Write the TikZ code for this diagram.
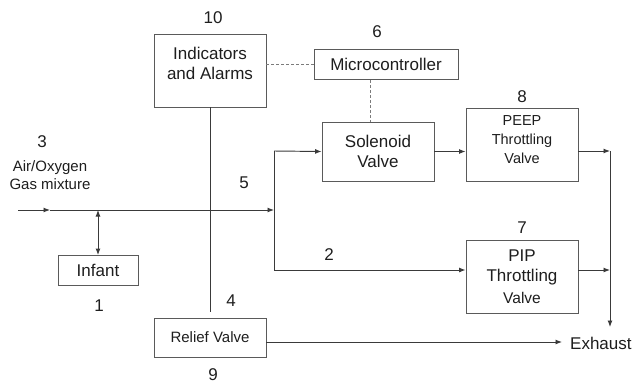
\documentclass[tikz,border=0pt]{standalone}
\usepackage{fontspec}
\setmainfont{Liberation Sans}
\usetikzlibrary{arrows.meta}
\definecolor{ln}{HTML}{3A3A3A}
\definecolor{bx}{HTML}{5A5A5A}
\definecolor{tx}{HTML}{1E1E1E}
\tikzset{
  box/.style={draw=bx, line width=0.9pt, inner sep=0pt, fill=white},
  bigtext/.style={text=tx, font=\fontsize{17}{20}\selectfont, inner sep=0pt, align=center},
  midtext/.style={text=tx, font=\fontsize{15}{18.5}\selectfont, inner sep=0pt, align=center},
  conn/.style={draw=ln, line width=0.95pt},
  arr/.style={conn, -{Latex[length=6.5pt,width=5pt]}},
  darr/.style={conn, {Latex[length=6.5pt,width=5pt]}-{Latex[length=6.5pt,width=5pt]}},
  dashline/.style={draw=bx!80, line width=0.9pt, dash pattern=on 3pt off 2pt}
}
\begin{document}
\begin{tikzpicture}[x=1pt,y=-1pt]
\useasboundingbox (0,0) rectangle (634,383);
% boxes
\node[box, minimum width=112pt, minimum height=73pt] (ind) at (210,70.5) {};
\node[bigtext] (indt) at (210,63) {Indicators\\and Alarms};
\node[box, minimum width=144pt, minimum height=30pt, bigtext] (mic) at (386,64.5) {Microcontroller};
\node[box, minimum width=112pt, minimum height=59pt, bigtext] (sol) at (378,151.5) {Solenoid\\Valve};
\node[box, minimum width=112pt, minimum height=73pt] (peep) at (522,144.5) {};
\node[text=tx, font=\fontsize{14.5}{19}\selectfont, inner sep=0pt, align=center] (peept) at (522,139.5) {PEEP\\Throttling\\Valve};
\node[box, minimum width=112pt, minimum height=73pt] (pip) at (522,276.5) {};
\node[bigtext] (pipt) at (522,267) {PIP\\Throttling};
\node[text=tx, font=\fontsize{15.5}{18}\selectfont, inner sep=0pt] (pipv) at (522,298) {Valve};
\node[box, minimum width=80pt, minimum height=30pt, bigtext] (inf) at (98,270.5) {Infant};
\node[box, minimum width=112pt, minimum height=39pt, midtext] (rel) at (210,337.5) {Relief Valve};
\node[bigtext, anchor=west] (exh) at (570,343) {Exhaust};
\node[midtext] (gas) at (50,175) {Air/Oxygen\\Gas mixture};
% numbers
\node[bigtext] (n10) at (213,18) {10};
\node[bigtext] (n6) at (377,32) {6};
\node[bigtext] (n8) at (522,97) {8};
\node[bigtext] (n7) at (522,228) {7};
\node[bigtext] (n3) at (42,142) {3};
\node[bigtext] (n5) at (244,183) {5};
\node[bigtext] (n2) at (329,255) {2};
\node[bigtext] (n1) at (99,306) {1};
\node[bigtext] (n4) at (231,301) {4};
\node[bigtext] (n9) at (213,375) {9};
% coordinates
\coordinate (in) at (18,210);
\coordinate (inm) at (50,210);
\coordinate (infj) at (98,210);
\coordinate (ja) at (274,210);
\coordinate (jt) at (274,151);
\coordinate (jb) at (274,270);
\coordinate (rt) at (610,151);
\coordinate (rb) at (610,270);
\coordinate (rend) at (610,327);
\coordinate (relend) at (562,342);
\coordinate (indb) at (210,312);
\coordinate (dtop) at (370,122);
% connectors
\draw[arr] (in) -- (inm);
\draw[arr] (inm) -- (ja);
\draw[darr] (infj) -- (inf.north);
\draw[conn] (jt) -- (jb);
\draw[arr] (jt) -- (sol.west);
\draw[arr] (jb) -- (pip.west |- jb);
\draw[arr] (sol.east) -- (peep.west |- sol.east);
\draw[arr] (peep.east |- rt) -- (rt);
\draw[arr] (pip.east |- rb) -- (rb);
\draw[arr] (rt) -- (rend);
\draw[arr] (rel.east |- relend) -- (relend);
\draw[conn] (ind.south) -- (indb);
\draw[dashline] (ind.east |- mic.west) -- (mic.west);
\draw[dashline] (dtop |- mic.south) -- (dtop);
\end{tikzpicture}
\end{document}
